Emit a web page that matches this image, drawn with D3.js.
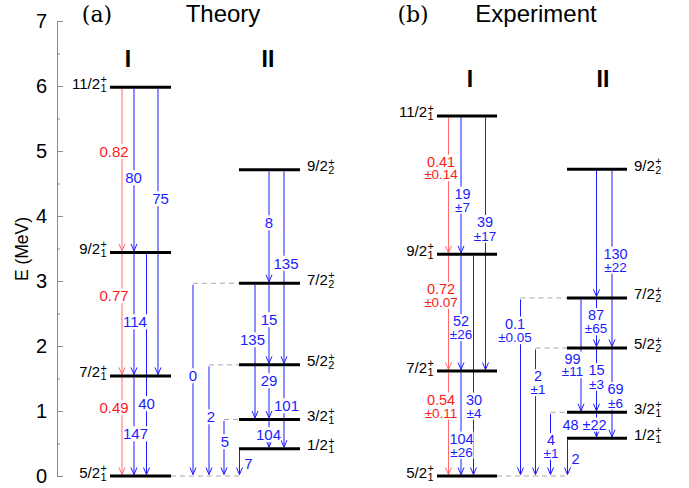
<!DOCTYPE html>
<html>
<head>
<meta charset="utf-8">
<script src="https://cdnjs.cloudflare.com/ajax/libs/d3/7.8.5/d3.min.js"></script>
<style>
  body { margin: 0; background: #fff; }
  svg text { font-family: "Liberation Sans", Arial, Helvetica, sans-serif; }
</style>
</head>
<body>
<div id="chart"></div>
<script>
// 1: DATA
const energyTicks = [0, 1, 2, 3, 4, 5, 6, 7];
const bands = ["I", "II"];

// levels: spin, index, band, energy (MeV)
const theoryLevels = [
  { j: "5/2", n: "1", band: "I", e: 0 },
  { j: "7/2", n: "1", band: "I", e: 1.54 },
  { j: "9/2", n: "1", band: "I", e: 3.44 },
  { j: "11/2", n: "1", band: "I", e: 5.98 },
  { j: "1/2", n: "1", band: "II", e: 0.42 },
  { j: "3/2", n: "1", band: "II", e: 0.87 },
  { j: "5/2", n: "2", band: "II", e: 1.71 },
  { j: "7/2", n: "2", band: "II", e: 2.965 },
  { j: "9/2", n: "2", band: "II", e: 4.71 }
];
const expLevels = [
  { j: "5/2", n: "1", band: "I", e: 0 },
  { j: "7/2", n: "1", band: "I", e: 1.615 },
  { j: "9/2", n: "1", band: "I", e: 3.41 },
  { j: "11/2", n: "1", band: "I", e: 5.54 },
  { j: "1/2", n: "1", band: "II", e: 0.58 },
  { j: "3/2", n: "1", band: "II", e: 0.98 },
  { j: "5/2", n: "2", band: "II", e: 1.97 },
  { j: "7/2", n: "2", band: "II", e: 2.74 },
  { j: "9/2", n: "2", band: "II", e: 4.72 }
];

// transitions: from, to, value, error, kind (ratio = red), lane
const theoryTrans = [
  { from: "11/2_1", to: "9/2_1", v: "0.82", kind: "ratio", lane: 0 },
  { from: "11/2_1", to: "9/2_1", v: "80", lane: 1 },
  { from: "11/2_1", to: "7/2_1", v: "75", lane: 3 },
  { from: "9/2_1", to: "7/2_1", v: "0.77", kind: "ratio", lane: 0 },
  { from: "9/2_1", to: "7/2_1", v: "114", lane: 1 },
  { from: "9/2_1", to: "5/2_1", v: "40", lane: 2 },
  { from: "7/2_1", to: "5/2_1", v: "0.49", kind: "ratio", lane: 0 },
  { from: "7/2_1", to: "5/2_1", v: "147", lane: 1 },
  { from: "9/2_2", to: "7/2_2", v: "8", lane: 9 },
  { from: "9/2_2", to: "5/2_2", v: "135", lane: 10 },
  { from: "7/2_2", to: "3/2_1", v: "135", lane: 8 },
  { from: "7/2_2", to: "5/2_2", v: "15", lane: 9 },
  { from: "7/2_2", to: "5/2_1", v: "0", lane: 4 },
  { from: "5/2_2", to: "3/2_1", v: "29", lane: 9 },
  { from: "5/2_2", to: "1/2_1", v: "101", lane: 10 },
  { from: "5/2_2", to: "5/2_1", v: "2", lane: 5 },
  { from: "3/2_1", to: "1/2_1", v: "104", lane: 9 },
  { from: "3/2_1", to: "5/2_1", v: "5", lane: 6 },
  { from: "1/2_1", to: "5/2_1", v: "7", lane: 7 }
];
const expTrans = [
  { from: "11/2_1", to: "9/2_1", v: "0.41", err: "±0.14", kind: "ratio", lane: 0 },
  { from: "11/2_1", to: "9/2_1", v: "19", err: "±7", lane: 1 },
  { from: "11/2_1", to: "7/2_1", v: "39", err: "±17", lane: 3 },
  { from: "9/2_1", to: "7/2_1", v: "0.72", err: "±0.07", kind: "ratio", lane: 0 },
  { from: "9/2_1", to: "7/2_1", v: "52", err: "±26", lane: 1 },
  { from: "9/2_1", to: "5/2_1", v: "30", err: "±4", lane: 2 },
  { from: "7/2_1", to: "5/2_1", v: "0.54", err: "±0.11", kind: "ratio", lane: 0 },
  { from: "7/2_1", to: "5/2_1", v: "104", err: "±26", lane: 1 },
  { from: "9/2_2", to: "7/2_2", v: "", lane: 9 },
  { from: "9/2_2", to: "5/2_2", v: "130", err: "±22", lane: 10 },
  { from: "7/2_2", to: "3/2_1", v: "99", err: "±11", lane: 8 },
  { from: "7/2_2", to: "5/2_2", v: "87", err: "±65", lane: 9 },
  { from: "7/2_2", to: "5/2_1", v: "0.1", err: "±0.05", lane: 4 },
  { from: "5/2_2", to: "3/2_1", v: "15", err: "±3", lane: 9 },
  { from: "5/2_2", to: "1/2_1", v: "69", err: "±6", lane: 10 },
  { from: "5/2_2", to: "5/2_1", v: "2", err: "±1", lane: 5 },
  { from: "3/2_1", to: "1/2_1", v: "48 ±22", lane: 9 },
  { from: "3/2_1", to: "5/2_1", v: "4", err: "±1", lane: 6 },
  { from: "1/2_1", to: "5/2_1", v: "2", lane: 7 }
];

// 2: LAYOUT
const width = 689, height = 488;
const y = d3.scaleLinear().domain([0, 7]).range([476, 21]);

const panels = [
  {
    tag: "(a)", title: "Theory", tagX: 97, titleX: 223, bandY: 59,
    levels: theoryLevels, trans: theoryTrans,
    bandX: { I: [110, 171], II: [239, 300] }, bandLabelX: { I: 128, II: 268 },
    lanes: [122, 134, 146.5, 158, 193, 209, 224, 239.5, 255, 269, 284],
    // label centres: [x, y] (second y for error line)
    labels: [[114, 152], [133.5, 178], [160.5, 199], [114, 296], [135, 322], [146.5, 404],
      [114, 408], [135.5, 434], [269, 223], [286, 263.5], [252.5, 340], [269, 320],
      [193, 376], [269, 381], [286.5, 406], [211, 417], [268.5, 435], [225, 442], [248.5, 463.5]],
    vSize: 15, eSize: 13.5
  },
  {
    tag: "(b)", title: "Experiment", tagX: 413, titleX: 536, bandY: 79,
    levels: expLevels, trans: expTrans,
    bandX: { I: [437, 497], II: [567, 627] }, bandLabelX: { I: 470, II: 603 },
    lanes: [448.5, 461, 473.5, 485.5, 520.5, 535.5, 550.5, 567.5, 581, 596.5, 612],
    labels: [[441, 161.5, 174.5], [462.5, 193.5, 207], [485, 222, 236], [441, 289, 302], [461, 321, 334.5],
      [474, 399.5, 413], [441, 399.5, 413], [461.5, 438.5, 452], null, [615.5, 253.5, 267],
      [572.5, 358.5, 371.5], [596, 315, 328.5], [515, 323.5, 337.5], [596.5, 370, 384],
      [615.5, 389, 403], [538, 376, 389.5], [584.5, 424.5], [551, 440, 453], [575.5, 459]],
    vSize: 14.5, eSize: 13.5
  }
];

const blue = "#1c1cff", red = "#ff1a1a", redLine = "#ff6a6a";

const svg = d3.select("#chart").append("svg")
  .attr("width", width).attr("height", height);

// 3: AXIS
const axis = svg.append("g").attr("transform", "translate(57,0)");
axis.call(d3.axisLeft(y).tickValues(energyTicks).tickSize(-6).tickSizeOuter(0).tickPadding(10)
  .tickFormat(d3.format("d")));
axis.append("g").call(d3.axisLeft(y).tickValues(d3.range(0.5, 7, 1)).tickSize(-3).tickSizeOuter(0).tickFormat(""))
  .select(".domain").remove();
axis.selectAll("path, line").attr("stroke", "#8a8a8a");
axis.selectAll("text").attr("font-size", 20).attr("fill", "#000")
  .style("font-family", "'Liberation Sans', Arial, sans-serif");

svg.append("text")
  .attr("transform", "translate(28,249) rotate(-90)")
  .attr("text-anchor", "middle")
  .attr("font-size", 17.5)
  .text("E (MeV)");

// temp measurer for label widths
const measure = svg.append("text").attr("font-size", 15).attr("opacity", 0);
const textWidth = s => { measure.text(s); return measure.node().getComputedTextLength(); };

// 4: PANELS
panels.forEach(p => {
  const key = l => l.j + "_" + l.n;
  const lev = new Map(p.levels.map(l => [key(l), l]));

  svg.append("text").attr("x", p.tagX).attr("y", 22).attr("text-anchor", "middle")
    .attr("font-size", 22).style("font-family", "'DejaVu Serif', 'Liberation Serif', serif")
    .text(p.tag);
  svg.append("text").attr("x", p.titleX).attr("y", 22).attr("text-anchor", "middle")
    .attr("font-size", 24).text(p.title);

  bands.forEach(b => {
    svg.append("text").attr("x", p.bandLabelX[b]).attr("y", p.bandY).attr("dy", "0.35em")
      .attr("text-anchor", "middle").attr("font-size", 23).attr("font-weight", "bold")
      .text(b);
  });

  // dashed feeders for lanes outside a level
  p.levels.forEach(l => {
    const [x0, x1] = p.bandX[l.band];
    const outside = p.trans.filter(t => t.from === key(l) || t.to === key(l))
      .map(t => p.lanes[t.lane]).filter(x => x < x0 - 1 || x > x1 + 1);
    if (!outside.length) return;
    const left = d3.min(outside), right = d3.max(outside);
    const a = left < x0 ? left : x1, bEnd = left < x0 ? (right > x1 ? right : x0) : right;
    svg.append("line")
      .attr("x1", a).attr("x2", bEnd)
      .attr("y1", y(l.e)).attr("y2", y(l.e))
      .attr("stroke", "#a8a8a8").attr("stroke-width", 1).attr("stroke-dasharray", "5,4");
  });

  // transitions
  p.trans.forEach(t => {
    const x = p.lanes[t.lane];
    const y1 = y(lev.get(t.from).e) + 1.5, y2 = y(lev.get(t.to).e) - 1.5;
    const c = t.kind === "ratio" ? redLine : blue;
    svg.append("line").attr("x1", x).attr("x2", x).attr("y1", y1).attr("y2", y2)
      .attr("stroke", c).attr("stroke-width", 1);
    svg.append("path")
      .attr("d", `M${x - 3},${y2 - 7}L${x},${y2}L${x + 3},${y2 - 7}`)
      .attr("fill", "none").attr("stroke", c).attr("stroke-width", 1);
  });

  // levels
  p.levels.forEach(l => {
    const [x0, x1] = p.bandX[l.band];
    const ly = y(l.e);
    svg.append("line").attr("x1", x0).attr("x2", x1).attr("y1", ly).attr("y2", ly)
      .attr("stroke", "#000").attr("stroke-width", 3);
    const w = textWidth(l.j);
    const xMain = l.band === "I" ? x0 - 10 - w : x1 + 7;
    const xs = xMain + w + 0.5;
    const t = svg.append("text").attr("font-size", 15);
    t.append("tspan").attr("x", xMain).attr("y", ly + 1.5).text(l.j);
    t.append("tspan").attr("x", xs).attr("y", ly - 4).attr("font-size", 11).text("+");
    t.append("tspan").attr("x", xs).attr("y", ly + 4.5).attr("font-size", 11).text(l.n);
  });

  // transition labels with white boxes
  p.trans.forEach((t, i) => {
    const pos = p.labels[i];
    if (!pos || !t.v) return;
    const c = t.kind === "ratio" ? red : blue;
    const g = svg.append("g");
    const rect = g.append("rect").attr("fill", "#fff");
    const txt = g.append("text").attr("text-anchor", "middle").attr("fill", c)
      .attr("font-size", p.vSize);
    txt.append("tspan").attr("x", pos[0]).attr("y", pos[1]).attr("dy", "0.35em").text(t.v);
    if (t.err) {
      txt.append("tspan").attr("x", pos[0]).attr("y", pos[2]).attr("dy", "0.35em")
        .attr("font-size", p.eSize).text(t.err);
    }
    const bb = g.node().getBBox();
    rect.attr("x", bb.x).attr("y", bb.y + 1).attr("width", bb.width).attr("height", bb.height - 2);
  });
});
measure.remove();
</script>
</body>
</html>
